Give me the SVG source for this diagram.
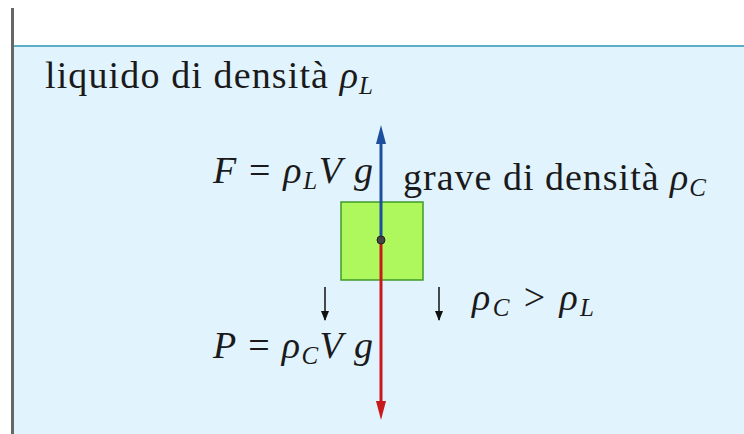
<svg xmlns="http://www.w3.org/2000/svg" width="744" height="434" viewBox="0 0 744 434">
<style>
.t{font-family:"Liberation Serif","DejaVu Serif",serif;font-size:38px;fill:#1a1a1a}
.m{font-style:italic}
.s{font-size:25px;font-style:italic}
</style>
<defs>
<marker id="ah" markerWidth="10" markerHeight="10" viewBox="0 0 10 10" refX="9" refY="5" orient="auto" markerUnits="userSpaceOnUse">
<path d="M0,1 L10,5 L0,9 Z" fill="#111"/>
</marker>
</defs>
<rect width="744" height="434" fill="#ffffff"/>
<g id="liquid">
<rect x="13" y="46" width="731" height="388" fill="#e1f3fd"/>
<line x1="13" y1="46" x2="744" y2="46" stroke="#5aaec6" stroke-width="2"/>
<line x1="12.5" y1="8" x2="12.5" y2="434" stroke="#666" stroke-width="3"/>
<text class="t" x="45" y="88" textLength="328" lengthAdjust="spacing">liquido di densità <tspan class="m">ρ</tspan><tspan class="s" dy="6">L</tspan></text>
</g>
<g id="body">
<rect x="341" y="202" width="82" height="78" fill="#aef75c" stroke="#3f9a2a" stroke-width="1.5"/>
<text class="t" x="403" y="190" textLength="303" lengthAdjust="spacing">grave di densità <tspan class="m">ρ</tspan><tspan class="s" dy="6">C</tspan></text>
</g>
<g id="connectors">
<line x1="381" y1="240" x2="381" y2="142" stroke="#1d4f9e" stroke-width="3"/>
<path d="M381,125 L386,144 L376,144 Z" fill="#1d4f9e"/>
<line x1="381" y1="240" x2="381" y2="403" stroke="#c8191c" stroke-width="3"/>
<path d="M381,420 L386,401 L376,401 Z" fill="#c8191c"/>
<circle cx="381" cy="240" r="4" fill="#444" stroke="#222" stroke-width="1"/>
<line x1="325" y1="287" x2="325" y2="320" stroke="#111" stroke-width="1.5" marker-end="url(#ah)"/>
<line x1="439" y1="287" x2="439" y2="320" stroke="#111" stroke-width="1.5" marker-end="url(#ah)"/>
</g>
<g id="labels">
<text class="t" x="213" y="183" textLength="160" lengthAdjust="spacing"><tspan class="m">F</tspan> = <tspan class="m">ρ</tspan><tspan class="s" dy="6">L</tspan><tspan class="m" dy="-6">V g</tspan></text>
<text class="t" x="472" y="310" textLength="122" lengthAdjust="spacing"><tspan class="m">ρ</tspan><tspan class="s" dy="6">C</tspan><tspan dy="-6"> &gt; </tspan><tspan class="m">ρ</tspan><tspan class="s" dy="6">L</tspan></text>
<text class="t" x="213" y="358" textLength="160" lengthAdjust="spacing"><tspan class="m">P</tspan> = <tspan class="m">ρ</tspan><tspan class="s" dy="6">C</tspan><tspan class="m" dy="-6">V g</tspan></text>
</g>
</svg>
